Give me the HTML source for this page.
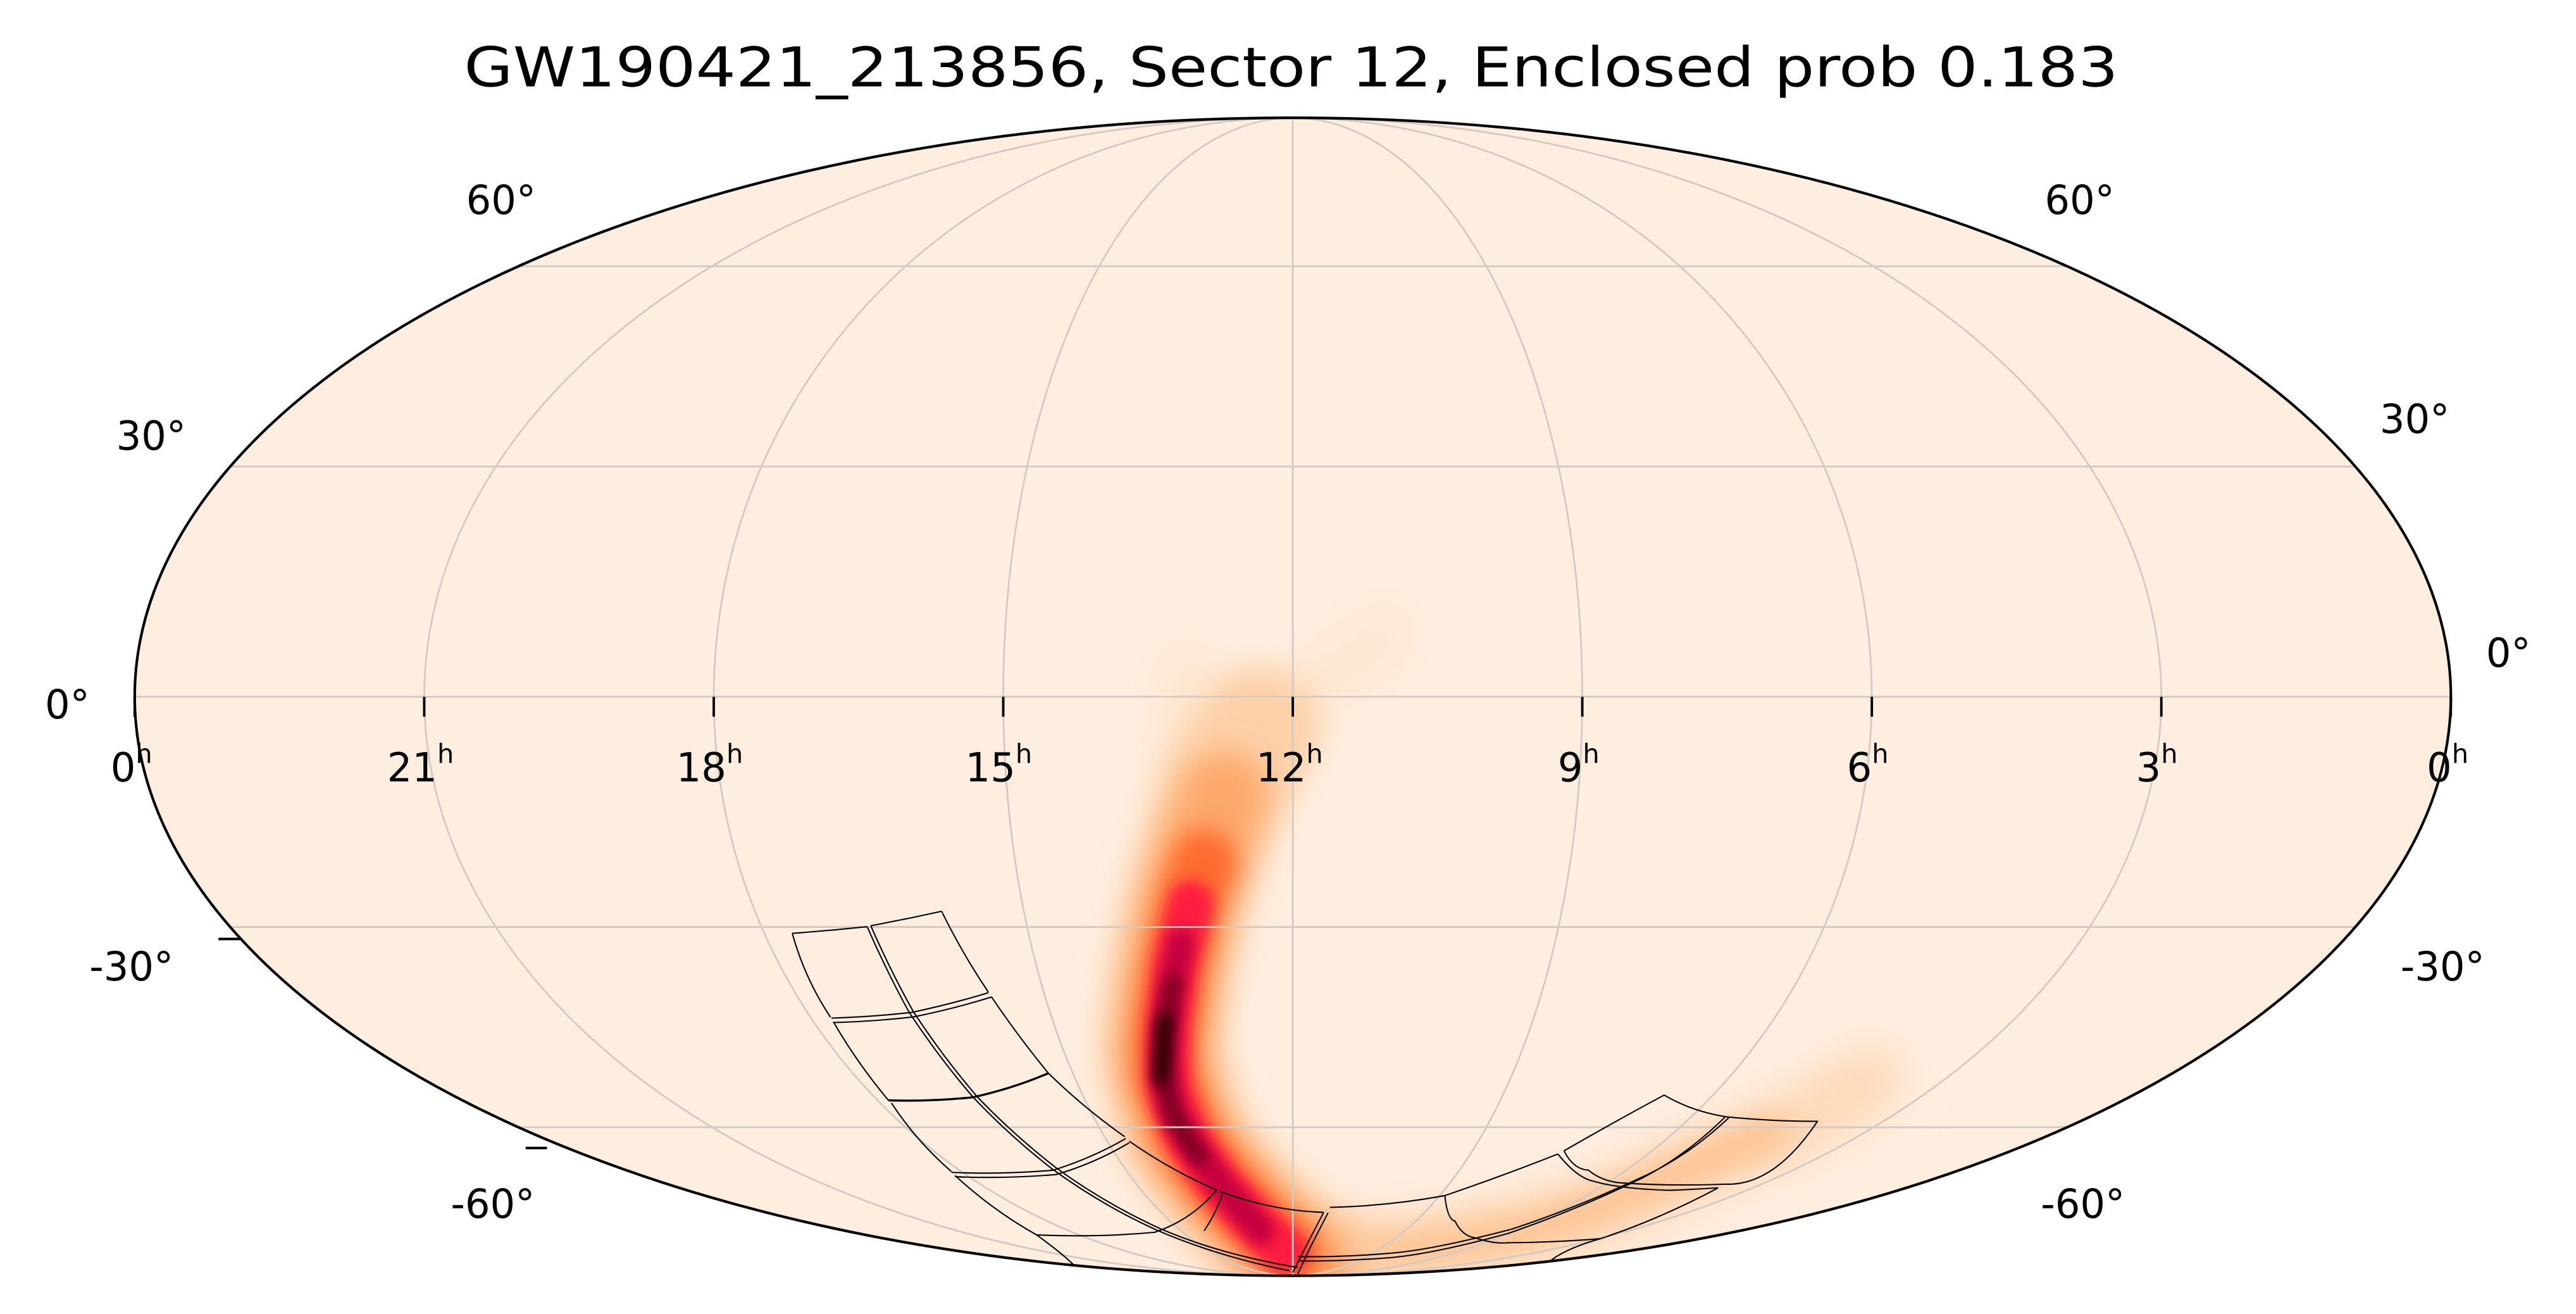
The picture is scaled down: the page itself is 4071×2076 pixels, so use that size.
<!DOCTYPE html>
<html><head><meta charset="utf-8"><style>
html,body{margin:0;padding:0;background:#fff;}
svg{display:block;}
text{font-family:"DejaVu Sans","Liberation Sans",sans-serif;fill:#000;}
</style></head><body>
<svg width="4071" height="2076" viewBox="0 0 4071 2076" xmlns="http://www.w3.org/2000/svg">
<defs>
<clipPath id="c"><ellipse cx="787" cy="420" rx="705" ry="349"/></clipPath>
<filter id="b0" filterUnits="userSpaceOnUse" x="0" y="0" width="1600" height="800"><feGaussianBlur stdDeviation="14"/></filter>
<filter id="b1" filterUnits="userSpaceOnUse" x="0" y="0" width="1600" height="800"><feGaussianBlur stdDeviation="9"/></filter>
<filter id="b2" filterUnits="userSpaceOnUse" x="0" y="0" width="1600" height="800"><feGaussianBlur stdDeviation="7"/></filter>
<filter id="b3" filterUnits="userSpaceOnUse" x="0" y="0" width="1600" height="800"><feGaussianBlur stdDeviation="4"/></filter>
</defs>
<g transform="scale(2.596,2.621)">
<text x="786" y="52" font-size="33" text-anchor="middle" textLength="1007" lengthAdjust="spacingAndGlyphs">GW190421_213856, Sector 12, Enclosed prob 0.183</text>
<ellipse cx="787" cy="420" rx="705" ry="349" fill="#feeee0"/>
<g clip-path="url(#c)">
 <g fill="none" stroke-linecap="round" stroke-linejoin="round">
  <path d="M845,382 L810,405 L785,425 L765,455 L745,495" stroke="#fde5cd" stroke-width="30" filter="url(#b0)"/>
  <path d="M722,400 L718,440 L715,480" stroke="#fde3c8" stroke-width="22" filter="url(#b0)"/>
  <path d="M800,755 L860,752 L920,744 L975,730 L1030,705 L1090,680 L1140,650" stroke="#fdd6b2" stroke-width="36" filter="url(#b0)"/>
  <path d="M810,758 L870,752 L930,742 L985,722 L1040,698 L1080,682" stroke="#fdc290" stroke-width="20" filter="url(#b1)"/>
  <path d="M765,440 L748,470 L735,505 L722,545 L712,590 L707,630 L720,682 L740,710 L762,734 L785,754 L800,764" stroke="#fdd0a8" stroke-width="76" filter="url(#b1)"/>
  <path d="M745,480 L733,510 L722,545 L713,590 L708,630 L708,645 L721,684 L740,710 L762,734 L785,754 L798,764" stroke="#fda86c" stroke-width="54" filter="url(#b1)"/>
  <path d="M733,520 L724,545 L715,585 L709,625 L709,645 L722,684 L740,710 L762,734 L785,756" stroke="#fe6a2e" stroke-width="40" filter="url(#b2)"/>
  <path d="M725,545 L716,580 L711,620 L711,655 L723,686 L741,712 L762,735 L782,754" stroke="#ff1a40" stroke-width="28" filter="url(#b3)"/>
  <path d="M719,568 L712,605 L709,640 L714,670 L728,694 L748,720 L768,742" stroke="#c4003f" stroke-width="17" filter="url(#b3)"/>
  <path d="M714,592 L709,625 L708,650 L716,676 L730,697" stroke="#7c0022" stroke-width="10" filter="url(#b3)"/>
  <path d="M709,615 L707,650" stroke="#2c0000" stroke-width="9" filter="url(#b3)"/>
 </g>
 <g stroke="#d3cbc3" stroke-width="1.1" fill="none">
  <line x1="82" y1="420" x2="1492" y2="420"/>
  <line x1="140" y1="281.2" x2="1434" y2="281.2"/>
  <line x1="140" y1="558.8" x2="1434" y2="558.8"/>
  <line x1="316" y1="160.5" x2="1258" y2="160.5"/>
  <line x1="316" y1="679.5" x2="1258" y2="679.5"/>
  <line x1="787" y1="71" x2="787" y2="769"/>
  <ellipse cx="787" cy="420" rx="176.25" ry="349"/>
  <ellipse cx="787" cy="420" rx="352.5" ry="349"/>
  <ellipse cx="787" cy="420" rx="528.75" ry="349"/>
 </g>
 <g stroke="#000" stroke-width="0.8" fill="none" stroke-linejoin="round">
  <path d="M482.3,562.6 Q490,590 505.6,613.2"/>
  <path d="M507.3,615.9 Q522,641 540.9,663.3"/>
  <path d="M542.7,664.9 Q558,688 579.2,706.2"/>
  <path d="M581.4,708.6 Q605,730 631.1,744.4 Q650,758 656,765 Q654,768 645,768"/>
  <path d="M482.3,562.6 Q505,561 527.9,558.6"/>
  <path d="M530.1,558 Q552,554 573.2,549.3"/>
  <path d="M573.2,549.3 Q586,575 601.7,598.1"/>
  <path d="M603.5,600.8 Q620,625 638.2,646.9 Q660,668 684.7,685.2"/>
  <path d="M687.5,687.9 Q712,705 740.6,717.3"/>
  <path d="M527.9,558.6 Q540,586 553.5,610.3 Q572,638 592.7,661.7 Q615,685 640.5,704.6 Q670,726 703.5,741.2 Q740,757 785,766"/>
  <path d="M530.1,558 Q542,585 556,609.8 Q574,637 595,661.2 Q617,684 643,704 Q672,725 706,740.5 Q742,756 790,764"/>
  <path d="M506.2,613.7 Q530,613 554.9,610.3 Q580,605 601.7,598.4"/>
  <path d="M507.3,616.4 Q531,615.8 556,613 Q581,608 603.5,601"/>
  <path d="M540.9,663.3 Q568,664 592.4,661.4 Q617,656 638.2,646.9" stroke-width="1.3"/>
  <path d="M579.2,706.7 Q610,708 641.1,705.4 Q665,698 685.3,686.3"/>
  <path d="M581.4,709.3 Q612,710.6 643,708 Q667,701 687.5,688.8"/>
  <path d="M631.1,744.4 Q668,746 703,742.8 Q726,735 740.6,717.3"/>
  <path d="M742,718 Q775,730 805.8,730.8"/>
  <path d="M805.8,730.8 L794.9,751.5 L787,767"/>
  <path d="M808.5,731 L797.6,752 L790,768"/>
  <path d="M744,720 Q741,730 733,742"/>
  <path d="M809.6,727.8 Q845,727 879.6,720.7 Q917,708 948.4,695.6"/>
  <path d="M952.1,693.7 Q985,675 1013.1,660.1 Q1030,670 1051.6,673.3 Q1080,676 1106.4,675.9 Q1080,715 1050.4,713.8"/>
  <path d="M1046,716 Q1010,735 974.2,746.7 Q955,752 944.8,759.2 Q944,762 950,764"/>
  <path d="M1052.9,673.3 Q1030,695 1003,708 Q960,728 920,741 Q870,754 844,755.6 Q815,758 790,757.4"/>
  <path d="M1050,673.5 Q1027,696 1000,710 Q958,730 918,743.5 Q868,757 842,758.4 Q813,760.5 790,760"/>
  <path d="M952.1,693.7 Q958,705 966.9,705.3 Q975,712 986.5,713 Q1016,715 1050.4,713.8"/>
  <path d="M948.4,695.6 Q960,710 970,712 Q985,716.5 1016,717.5 Q1030,717 1046,716"/>
  <path d="M879.6,720.7 Q881,735 885.8,736.1 Q890,745 898,746.2 Q910,750 917.7,749.1 Q945,749 974.2,746.7"/>
 </g>
</g>
<ellipse cx="787" cy="420" rx="705" ry="349" fill="none" stroke="#000" stroke-width="1.6"/>
<g stroke="#000" stroke-width="1.5">
 <line x1="258.25" y1="420" x2="258.25" y2="432"/>
 <line x1="434.5" y1="420" x2="434.5" y2="432"/>
 <line x1="610.75" y1="420" x2="610.75" y2="432"/>
 <line x1="787" y1="420" x2="787" y2="432"/>
 <line x1="963.25" y1="420" x2="963.25" y2="432"/>
 <line x1="1139.5" y1="420" x2="1139.5" y2="432"/>
 <line x1="1315.75" y1="420" x2="1315.75" y2="432"/>
 <line x1="82" y1="420" x2="82" y2="432"/>
 <line x1="1492" y1="420" x2="1492" y2="432"/>
 <line x1="133" y1="566" x2="146" y2="566"/>
 <line x1="320" y1="692" x2="333" y2="692"/>
</g>
<g font-size="24" text-anchor="middle">
 <text x="80" y="471">0<tspan font-size="16" dy="-11">h</tspan></text>
 <text x="256" y="471">21<tspan font-size="16" dy="-11">h</tspan></text>
 <text x="432" y="471">18<tspan font-size="16" dy="-11">h</tspan></text>
 <text x="608" y="471">15<tspan font-size="16" dy="-11">h</tspan></text>
 <text x="785" y="471">12<tspan font-size="16" dy="-11">h</tspan></text>
 <text x="961" y="471">9<tspan font-size="16" dy="-11">h</tspan></text>
 <text x="1137" y="471">6<tspan font-size="16" dy="-11">h</tspan></text>
 <text x="1313" y="471">3<tspan font-size="16" dy="-11">h</tspan></text>
 <text x="1490" y="471">0<tspan font-size="16" dy="-11">h</tspan></text>
 <text x="305" y="129">60°</text>
 <text x="92" y="271">30°</text>
 <text x="41" y="433">0°</text>
 <text x="80" y="591">-30°</text>
 <text x="300" y="734">-60°</text>
 <text x="1266" y="129">60°</text>
 <text x="1470" y="261">30°</text>
 <text x="1527" y="402">0°</text>
 <text x="1487" y="591">-30°</text>
 <text x="1268" y="734">-60°</text>
</g>
</g>
</svg>
</body></html>
